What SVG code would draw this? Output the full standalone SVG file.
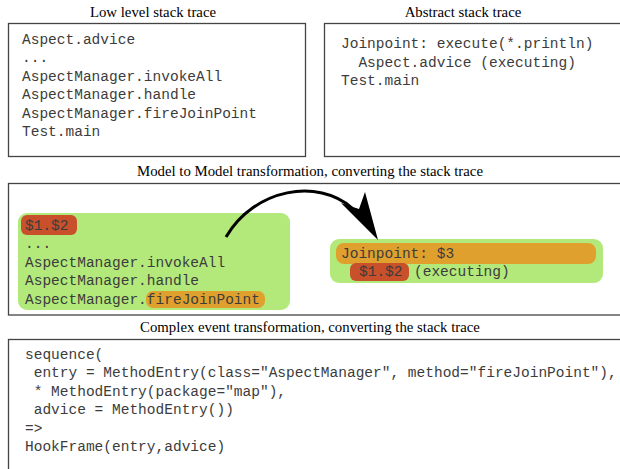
<svg xmlns="http://www.w3.org/2000/svg" width="620" height="469" viewBox="0 0 620 469">
<style>
.frame{fill:#fff;stroke:#444;stroke-width:1.3}
.title{font-family:"Liberation Serif","Times New Roman",serif;font-size:14.8px;fill:#000;text-anchor:middle}
.code{font-family:"Liberation Mono","Courier New",monospace;font-size:14.5px;fill:#3c3c3c;white-space:pre}
.green{fill:#b2e97a}
.red{fill:#c8502b}
.orange{fill:#e0a02e}
</style>
<rect width="620" height="469" fill="#fff"/>
<g id="low-level">
<text class="title" x="153" y="17">Low level stack trace</text>
<rect class="frame" x="8.5" y="23.5" width="297" height="133"/>
<text class="code" x="22" y="44">Aspect.advice</text>
<text class="code" x="22" y="62">...</text>
<text class="code" x="22" y="81">AspectManager.invokeAll</text>
<text class="code" x="22" y="99">AspectManager.handle</text>
<text class="code" x="22" y="118">AspectManager.fireJoinPoint</text>
<text class="code" x="22" y="136">Test.main</text>
</g>
<g id="abstract">
<text class="title" x="463" y="17">Abstract stack trace</text>
<rect class="frame" x="324.5" y="23.5" width="310" height="133"/>
<text class="code" x="341" y="48">Joinpoint: execute(*.println)</text>
<text class="code" x="341" y="67">  Aspect.advice (executing)</text>
<text class="code" x="341" y="85">Test.main</text>
</g>
<g id="model-to-model">
<text class="title" x="310" y="176">Model to Model transformation, converting the stack trace</text>
<rect class="frame" x="8.5" y="183.5" width="630" height="131.5"/>
<g id="source-pattern">
<rect class="green" x="18" y="213" width="272" height="97" rx="9"/>
<rect class="red" x="21" y="215" width="56" height="20" rx="6"/>
<rect class="orange" x="146" y="291" width="119" height="17" rx="7"/>
<text class="code" x="25" y="230">$1.$2</text>
<text class="code" x="25" y="248">...</text>
<text class="code" x="25" y="267">AspectManager.invokeAll</text>
<text class="code" x="25" y="285">AspectManager.handle</text>
<text class="code" x="25" y="304">AspectManager.fireJoinPoint</text>
</g>
<g id="target-pattern">
<rect class="green" x="330" y="239" width="273" height="44" rx="9"/>
<rect class="orange" x="336" y="243" width="260" height="21" rx="8"/>
<rect class="red" x="350" y="263" width="59" height="18" rx="6"/>
<text class="code" x="341" y="258">Joinpoint: $3</text>
<text class="code" x="359" y="276">$1.$2</text>
<text class="code" x="414" y="276">(executing)</text>
</g>
</g>
<g id="connectors">
<path d="M226,237 C255,188 318,178 352,208" fill="none" stroke="#000" stroke-width="3"/>
<path d="M378,240 L341,203 L359,209 L365,192 Z" fill="#000"/>
</g>
<g id="complex-event">
<text class="title" x="310" y="332">Complex event transformation, converting the stack trace</text>
<rect class="frame" x="8.5" y="339.5" width="630" height="140"/>
<text class="code" x="25" y="359">sequence(</text>
<text class="code" x="25" y="377"> entry = MethodEntry(class="AspectManager", method="fireJoinPoint"),</text>
<text class="code" x="25" y="396"> * MethodEntry(package="map"),</text>
<text class="code" x="25" y="414"> advice = MethodEntry())</text>
<text class="code" x="25" y="433">=&gt;</text>
<text class="code" x="25" y="451">HookFrame(entry,advice)</text>
</g>
</svg>
